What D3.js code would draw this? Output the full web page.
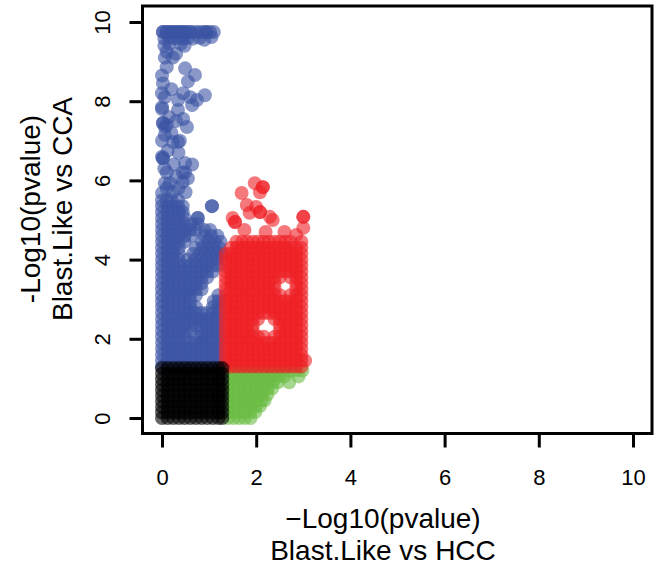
<!DOCTYPE html>
<html>
<head>
<meta charset="utf-8">
<script src="https://cdn.jsdelivr.net/npm/d3@7"></script>
<style>
body { margin: 0; background: #fff; }
svg { display: block; }
text { font-family: "Liberation Sans", Arial, Helvetica, sans-serif; fill: #000; }
</style>
</head>
<body>
<svg id="chart" width="665" height="571"></svg>
<script>
// axis ticks
var xTicks = [0, 2, 4, 6, 8, 10];
var yTicks = [0, 2, 4, 6, 8, 10];

// points, grouped by row: [y, [x, x, ...]]
var greenRows = [
    [0.00, [1.40, 1.52, 1.64, 1.76, 1.88]],
    [0.15, [1.40, 1.52, 1.64, 1.76, 1.88, 1.98]],
    [0.30, [1.40, 1.52, 1.64, 1.76, 1.88, 2.00, 2.08]],
    [0.45, [1.40, 1.52, 1.64, 1.76, 1.88, 2.00, 2.12, 2.18]],
    [0.60, [1.40, 1.52, 1.64, 1.76, 1.88, 2.00, 2.12, 2.24]],
    [0.75, [1.40, 1.52, 1.64, 1.76, 1.88, 2.00, 2.12, 2.24, 2.34]],
    [0.90, [1.40, 1.52, 1.64, 1.76, 1.88, 2.00, 2.12, 2.24, 2.36, 2.46, 2.70]],
    [1.05, [1.40, 1.52, 1.64, 1.76, 1.88, 2.00, 2.12, 2.24, 2.36, 2.48, 2.60, 2.90]],
    [1.20, [1.40, 1.52, 1.64, 1.76, 1.88, 2.00, 2.12, 2.24, 2.36, 2.48, 2.60, 2.72, 2.84, 2.98]]
];

var blueRows = [
    [1.30, [0.00, 0.12, 0.24, 0.36, 0.48, 0.60, 0.72, 0.84, 0.96, 1.08, 1.20]],
    [1.45, [0.00, 0.12, 0.24, 0.36, 0.48, 0.60, 0.72, 0.84, 0.96, 1.08, 1.20]],
    [1.60, [0.00, 0.12, 0.24, 0.36, 0.48, 0.60, 0.72, 0.84, 0.96, 1.08, 1.20]],
    [1.75, [0.00, 0.12, 0.24, 0.36, 0.48, 0.60, 0.72, 0.84, 0.96, 1.08, 1.20]],
    [1.90, [0.00, 0.12, 0.24, 0.36, 0.48, 0.60, 0.72, 0.84, 0.96, 1.08, 1.20]],
    [2.05, [0.00, 0.12, 0.24, 0.36, 0.48, 0.72, 0.84, 0.96, 1.08, 1.20]],
    [2.20, [0.00, 0.12, 0.24, 0.36, 0.48, 0.60, 0.84, 0.96, 1.08, 1.20]],
    [2.35, [0.00, 0.12, 0.24, 0.36, 0.48, 0.60, 0.72, 0.84, 0.96, 1.08, 1.20]],
    [2.50, [0.00, 0.12, 0.24, 0.36, 0.48, 0.60, 0.72, 0.84, 0.96, 1.08, 1.20]],
    [2.65, [0.00, 0.12, 0.24, 0.36, 0.48, 0.60, 0.72, 0.84, 0.96, 1.08, 1.20]],
    [2.80, [0.00, 0.12, 0.24, 0.36, 0.48, 0.60, 0.72, 1.08, 1.20]],
    [2.95, [0.00, 0.12, 0.24, 0.36, 0.48, 0.60, 1.10, 1.20]],
    [3.10, [0.00, 0.12, 0.24, 0.36, 0.48, 0.60, 0.72, 1.20]],
    [3.25, [0.00, 0.12, 0.24, 0.36, 0.48, 0.60, 0.72, 0.84]],
    [3.40, [0.00, 0.12, 0.24, 0.36, 0.48, 0.60, 0.72, 0.84]],
    [3.55, [0.00, 0.12, 0.24, 0.36, 0.48, 0.60, 0.72, 0.84, 0.96]],
    [3.70, [0.00, 0.12, 0.24, 0.36, 0.48, 0.60, 0.72, 0.84, 0.96, 1.08]],
    [3.85, [0.00, 0.12, 0.24, 0.36, 0.48, 0.60, 0.72, 0.84, 0.96, 1.08, 1.20]],
    [4.00, [0.00, 0.12, 0.24, 0.36, 0.55, 0.70, 0.82, 0.94, 1.06, 1.18]],
    [4.15, [0.00, 0.12, 0.24, 0.36, 0.66, 0.80, 0.92, 1.04, 1.16, 1.26]],
    [4.30, [0.00, 0.12, 0.24, 0.36, 0.72, 0.86, 0.98, 1.10, 1.22]],
    [4.45, [0.00, 0.12, 0.24, 0.36, 0.48, 0.85, 0.98, 1.12, 1.24]],
    [4.60, [0.00, 0.12, 0.24, 0.36, 0.48, 0.62, 0.90, 1.05, 1.18]],
    [4.75, [0.00, 0.12, 0.24, 0.36, 0.48, 0.60, 0.72, 0.90, 1.02]],
    [4.90, [0.00, 0.12, 0.24, 0.36, 0.48, 0.62, 0.76]],
    [5.05, [0.00, 0.12, 0.24, 0.36, 0.48, 0.76, 0.76]],
    [5.20, [0.00, 0.12, 0.24, 0.36, 0.44]],
    [5.35, [0.00, 0.12, 0.24, 0.34, 0.44, 1.06, 1.06]],
    [5.50, [0.00, 0.10, 0.20, 0.34]]
];

var blueScatter = [
    [0.00, 5.68], [0.23, 5.70], [0.06, 5.93], [0.17, 5.93], [0.44, 5.96],
    [0.10, 5.80], [0.35, 5.80], [0.50, 5.70], [0.30, 6.10], [0.55, 6.05],
    [0.05, 6.30], [0.25, 6.40], [0.12, 6.75], [0.35, 6.70], [0.00, 7.00],
    [0.20, 7.20], [0.15, 7.60], [0.30, 7.50], [0.45, 7.55], [0.20, 8.30],
    [0.45, 8.20], [0.60, 8.10], [0.00, 8.65], [0.30, 9.20], [0.10, 9.25],
    [0.10, 6.20], [0.44, 6.20], [0.49, 6.20], [0.49, 6.44], [0.64, 6.40],
    [0.02, 6.56], [0.02, 6.56], [0.00, 6.60], [0.23, 6.97], [0.38, 7.00],
    [0.34, 6.97], [0.06, 7.15], [0.10, 7.40], [0.02, 7.45], [0.02, 7.45],
    [0.53, 7.35], [0.06, 7.35], [0.00, 7.80], [0.34, 7.78], [0.00, 7.85],
    [0.64, 7.90], [0.74, 8.03], [0.34, 8.03], [0.91, 8.15], [0.06, 8.10],
    [0.00, 8.20], [0.02, 8.45], [0.55, 8.50], [0.70, 8.66], [0.49, 8.83],
    [0.10, 8.86], [0.06, 9.10], [0.23, 9.10],
    [0.05, 9.40], [0.15, 9.45], [0.40, 9.45], [0.48, 9.40],
    [0.05, 9.58], [0.15, 9.60], [0.25, 9.58], [0.35, 9.60], [0.45, 9.58],
    [0.55, 9.60], [0.65, 9.58], [0.80, 9.60], [0.90, 9.55], [1.05, 9.62],
    [0.02, 9.75], [0.10, 9.75], [0.18, 9.75], [0.26, 9.75], [0.34, 9.75],
    [0.42, 9.75], [0.50, 9.75], [0.60, 9.75], [0.70, 9.75], [0.78, 9.75],
    [0.86, 9.75], [0.94, 9.75], [1.02, 9.75], [1.10, 9.75],
    [0.02, 9.75], [0.10, 9.75], [0.18, 9.75], [0.26, 9.75], [0.34, 9.75],
    [0.42, 9.75], [0.50, 9.75], [0.60, 9.75], [0.94, 9.75]
];

var redRows = [
    [1.30, [1.35, 1.47, 1.58, 1.70, 1.81, 1.93, 2.04, 2.16, 2.27, 2.39, 2.50, 2.62, 2.73, 2.85, 2.96]],
    [1.45, [1.35, 1.47, 1.58, 1.70, 1.81, 1.93, 2.04, 2.16, 2.27, 2.39, 2.50, 2.62, 2.73, 2.85, 2.96, 3.04]],
    [1.60, [1.35, 1.47, 1.58, 1.70, 1.81, 1.93, 2.04, 2.16, 2.27, 2.39, 2.50, 2.62, 2.73, 2.85, 2.96]],
    [1.75, [1.35, 1.47, 1.58, 1.70, 1.81, 1.93, 2.04, 2.16, 2.27, 2.39, 2.50, 2.62, 2.73, 2.85, 2.96]],
    [1.90, [1.35, 1.47, 1.58, 1.70, 1.81, 1.93, 2.04, 2.16, 2.27, 2.39, 2.50, 2.62, 2.73, 2.85, 2.96]],
    [2.05, [1.35, 1.47, 1.58, 1.70, 1.81, 1.93, 2.04, 2.16, 2.39, 2.50, 2.62, 2.73, 2.85, 2.96]],
    [2.20, [1.35, 1.47, 1.58, 1.70, 1.81, 1.93, 2.50, 2.62, 2.73, 2.85, 2.96]],
    [2.35, [1.35, 1.47, 1.58, 1.70, 1.81, 1.93, 2.50, 2.62, 2.73, 2.85, 2.96]],
    [2.50, [1.35, 1.47, 1.58, 1.70, 1.81, 1.93, 2.04, 2.39, 2.50, 2.62, 2.73, 2.85, 2.96]],
    [2.65, [1.35, 1.47, 1.58, 1.70, 1.81, 1.93, 2.04, 2.16, 2.27, 2.39, 2.50, 2.62, 2.73, 2.85, 2.96]],
    [2.80, [1.35, 1.47, 1.58, 1.70, 1.81, 1.93, 2.04, 2.16, 2.27, 2.39, 2.50, 2.62, 2.73, 2.85, 2.96]],
    [2.95, [1.35, 1.47, 1.58, 1.70, 1.81, 1.93, 2.04, 2.16, 2.27, 2.39, 2.50, 2.62, 2.73, 2.85, 2.96]],
    [3.10, [1.35, 1.47, 1.58, 1.70, 1.81, 1.93, 2.04, 2.16, 2.27, 2.39, 2.50, 2.73, 2.85, 2.96]],
    [3.25, [1.35, 1.47, 1.58, 1.70, 1.81, 1.93, 2.04, 2.16, 2.27, 2.39, 2.85, 2.96]],
    [3.40, [1.35, 1.47, 1.58, 1.70, 1.81, 1.93, 2.04, 2.16, 2.27, 2.39, 2.85, 2.96]],
    [3.55, [1.35, 1.47, 1.58, 1.70, 1.81, 1.93, 2.04, 2.16, 2.27, 2.39, 2.50, 2.73, 2.85, 2.96]],
    [3.70, [1.35, 1.47, 1.58, 1.70, 1.81, 1.93, 2.04, 2.16, 2.27, 2.39, 2.50, 2.62, 2.73, 2.85, 2.96]],
    [3.85, [1.35, 1.47, 1.58, 1.70, 1.81, 1.93, 2.04, 2.16, 2.27, 2.39, 2.50, 2.62, 2.73, 2.85, 2.96]],
    [4.00, [1.35, 1.47, 1.58, 1.70, 1.81, 1.93, 2.04, 2.16, 2.27, 2.39, 2.50, 2.62, 2.73, 2.85, 2.96]],
    [4.15, [1.35, 1.47, 1.58, 1.70, 1.81, 1.93, 2.04, 2.16, 2.27, 2.39, 2.50, 2.62, 2.73, 2.85, 2.96]],
    [4.30, [1.47, 1.58, 1.70, 1.81, 1.93, 2.04, 2.16, 2.27, 2.39, 2.50, 2.62, 2.73, 2.85, 2.96]],
    [4.45, [1.58, 1.70, 1.81, 1.93, 2.04, 2.16, 2.27, 2.39, 2.50, 2.62, 2.73, 2.96]]
];

var redScatter = [
    [1.55, 4.95], [1.55, 4.95], [1.50, 5.05], [1.86, 5.18], [2.08, 5.20],
    [2.08, 5.20], [1.80, 5.38], [2.00, 5.33], [1.69, 5.68], [1.97, 5.93],
    [2.08, 5.70], [2.14, 5.83], [2.14, 5.83], [2.35, 5.00], [2.29, 5.08],
    [3.00, 5.08], [3.00, 5.08], [3.00, 4.80], [2.60, 4.70], [1.75, 4.75],
    [2.20, 4.70], [2.85, 4.62]
];

var blackRows = [
    [0.00, [0.00, 0.12, 0.24, 0.36, 0.48, 0.60, 0.72, 0.84, 0.96, 1.08, 1.20, 1.28]],
    [0.14, [0.00, 0.12, 0.24, 0.36, 0.48, 0.60, 0.72, 0.84, 0.96, 1.08, 1.20, 1.28]],
    [0.28, [0.00, 0.12, 0.24, 0.36, 0.48, 0.60, 0.72, 0.84, 0.96, 1.08, 1.20, 1.28]],
    [0.42, [0.00, 0.12, 0.24, 0.36, 0.48, 0.60, 0.72, 0.84, 0.96, 1.08, 1.20, 1.28]],
    [0.56, [0.00, 0.12, 0.24, 0.36, 0.48, 0.60, 0.72, 0.84, 0.96, 1.08, 1.20, 1.28]],
    [0.70, [0.00, 0.12, 0.24, 0.36, 0.48, 0.60, 0.72, 0.84, 0.96, 1.08, 1.20, 1.28]],
    [0.84, [0.00, 0.12, 0.24, 0.36, 0.48, 0.60, 0.72, 0.84, 0.96, 1.08, 1.20, 1.28]],
    [0.98, [0.00, 0.12, 0.24, 0.36, 0.48, 0.60, 0.72, 0.84, 0.96, 1.08, 1.20, 1.28]],
    [1.12, [0.00, 0.12, 0.24, 0.36, 0.48, 0.60, 0.72, 0.84, 0.96, 1.08, 1.20, 1.28]],
    [1.26, [0.00, 0.12, 0.24, 0.36, 0.48, 0.60, 0.72, 0.84, 0.96, 1.08, 1.20, 1.28]]
];

var xTitle = ["\u2212Log10(pvalue)", "Blast.Like vs HCC"];
var yTitle = ["-Log10(pvalue)", "Blast.Like vs CCA"];

function rowsToPoints(rows) {
    var pts = [];
    rows.forEach(function(r) {
        r[1].forEach(function(xv) {
            pts.push([xv, r[0]]);
        });
    });
    return pts;
}

var svg = d3.select("#chart");

var x = d3.scaleLinear().domain([0, 10]).range([162, 633]);
var y = d3.scaleLinear().domain([0, 10]).range([418, 22]);

var groups = [
    {key: "green", color: "#6BBD45", points: rowsToPoints(greenRows)},
    {key: "blue", color: "#3A53A4", points: rowsToPoints(blueRows).concat(blueScatter)},
    {key: "red", color: "#EE2024", points: rowsToPoints(redRows).concat(redScatter)},
    {key: "black", color: "#000000", points: rowsToPoints(blackRows)}
];

groups.forEach(function(g) {
    svg.append("g")
        .attr("class", "pts " + g.key)
        .selectAll("circle")
        .data(g.points)
        .enter().append("circle")
        .attr("cx", function(d) { return x(d[0]); })
        .attr("cy", function(d) { return y(d[1]); })
        .attr("r", 7)
        .attr("fill", g.color)
        .attr("fill-opacity", 0.6);
});

// box
svg.append("rect")
    .attr("x", 142.5)
    .attr("y", 6)
    .attr("width", 652 - 142.5)
    .attr("height", 433.5 - 6)
    .attr("fill", "none")
    .attr("stroke", "#000")
    .attr("stroke-width", 3);

var xAxis = svg.append("g")
    .attr("transform", "translate(0,433.5)")
    .call(d3.axisBottom(x).tickValues(xTicks).tickSize(14).tickPadding(22).tickFormat(d3.format("d")));
xAxis.select(".domain").remove();
xAxis.selectAll(".tick line").attr("stroke-width", 3);
xAxis.selectAll(".tick text")
    .style("font-family", "Liberation Sans, Arial, sans-serif")
    .style("font-size", "22px");

var yAxis = svg.append("g")
    .attr("transform", "translate(142.5,0)")
    .call(d3.axisLeft(y).tickValues(yTicks).tickSize(13).tickFormat(d3.format("d")));
yAxis.select(".domain").remove();
yAxis.selectAll(".tick line").attr("stroke-width", 3);
yAxis.selectAll(".tick text")
    .attr("x", null)
    .attr("dy", null)
    .attr("text-anchor", "middle")
    .attr("transform", "translate(-33,0) rotate(-90)")
    .style("font-family", "Liberation Sans, Arial, sans-serif")
    .style("font-size", "22px");

svg.append("g").selectAll("text")
    .data(xTitle)
    .enter().append("text")
    .attr("x", 383)
    .attr("y", function(d, i) { return 528 + i * 32; })
    .attr("text-anchor", "middle")
    .style("font-size", "28px")
    .text(function(d) { return d; });

svg.append("g").selectAll("text")
    .data(yTitle)
    .enter().append("text")
    .attr("transform", function(d, i) { return "translate(" + (40 + i * 32) + ",209) rotate(-90)"; })
    .attr("text-anchor", "middle")
    .style("font-size", "28px")
    .text(function(d) { return d; });
</script>
</body>
</html>
